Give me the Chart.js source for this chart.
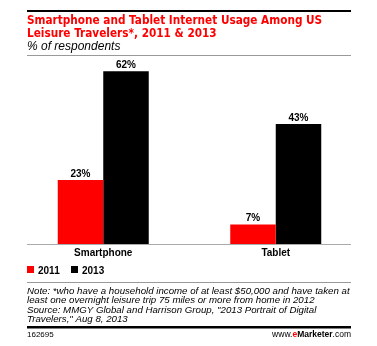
<!DOCTYPE html>
<html>
<head>
<meta charset="utf-8">
<script src="https://cdn.jsdelivr.net/npm/chart.js@4.4.1/dist/chart.umd.min.js"></script>
<style>
  html, body { margin: 0; padding: 0; background: #fff; }
  #wrap { position: relative; width: 377px; height: 346px; }
</style>
</head>
<body>
<div id="wrap"><canvas id="usageChart" width="377" height="346"></canvas></div>
<script>
// chart data
const categories = ['Smartphone', 'Tablet'];
const seriesNames = ['2011', '2013'];
const values2011 = [23, 7];
const values2013 = [62, 43];
const seriesColors = ['#ff0000', '#000000'];

const titleLines = ['Smartphone and Tablet Internet Usage Among US', 'Leisure Travelers*, 2011 & 2013'];
const subtitle = '% of respondents';
const noteLines = [
    'Note: *who have a household income of at least $50,000 and have taken at',
    'least one overnight leisure trip 75 miles or more from home in 2012',
    'Source: MMGY Global and Harrison Group, "2013 Portrait of Digital',
    'Travelers," Aug 8, 2013'
];
const chartId = '162695';

const LEFT = 27, RIGHT = 351;

// header, value labels, legend and footer
const decorations = {
    id: 'decorations',
    afterDraw(chart) {
        const ctx = chart.ctx;
        const y = chart.scales.y;
        ctx.save();

        // top rule
        ctx.fillStyle = '#000';
        ctx.fillRect(LEFT, 10, RIGHT - LEFT, 2);

        // title
        ctx.fillStyle = '#ff0000';
        ctx.font = 'bold 11.7px "DejaVu Sans Condensed", "DejaVu Sans", sans-serif';
        ctx.textBaseline = 'alphabetic';
        ctx.textAlign = 'left';
        ctx.fillText(titleLines[0], LEFT, 24);
        ctx.fillText(titleLines[1], LEFT, 37);

        ctx.fillStyle = '#000';
        ctx.font = 'italic 12px "Liberation Sans", Arial, sans-serif';
        ctx.fillText(subtitle, LEFT, 50);

        ctx.fillStyle = '#999';
        ctx.fillRect(LEFT, 55, RIGHT - LEFT, 1);

        // baseline
        ctx.fillStyle = '#aaa';
        ctx.fillRect(LEFT, Math.round(y.getPixelForValue(0)), RIGHT - LEFT, 1);

        // value labels
        ctx.fillStyle = '#000';
        ctx.font = 'bold 10px "Liberation Sans", Arial, sans-serif';
        ctx.textAlign = 'center';
        chart.data.datasets.forEach((ds, i) => {
            chart.getDatasetMeta(i).data.forEach((bar, j) => {
                ctx.fillText(ds.data[j] + '%', bar.x, bar.y - 3);
            });
        });

        // legend
        ctx.textAlign = 'left';
        let lx = LEFT;
        chart.data.datasets.forEach((ds) => {
            ctx.fillStyle = ds.backgroundColor;
            ctx.fillRect(lx, 266, 7, 7);
            ctx.fillStyle = '#000';
            ctx.fillText(ds.label, lx + 11, 273.5);
            lx += 44;
        });

        ctx.fillStyle = '#999';
        ctx.fillRect(LEFT, 282, RIGHT - LEFT, 1);

        // note
        ctx.fillStyle = '#000';
        ctx.font = 'italic 9.7px "Liberation Sans", Arial, sans-serif';
        noteLines.forEach((line, i) => {
            ctx.fillText(line, LEFT, 294 + i * 9.4);
        });

        ctx.fillRect(LEFT, 326, RIGHT - LEFT, 2.5);

        // footer
        ctx.font = '8px "Liberation Sans", Arial, sans-serif';
        ctx.fillText(chartId, LEFT, 337);

        const parts = [
            ['www.', 'normal', '#000'],
            ['e', 'bold', '#ff0000'],
            ['Marketer', 'bold', '#000'],
            ['.com', 'normal', '#000']
        ];
        let total = 0;
        parts.forEach(p => {
            ctx.font = p[1] + ' 8.5px "Liberation Sans", Arial, sans-serif';
            total += ctx.measureText(p[0]).width;
        });
        let fx = RIGHT - total;
        parts.forEach(p => {
            ctx.font = p[1] + ' 8.5px "Liberation Sans", Arial, sans-serif';
            ctx.fillStyle = p[2];
            ctx.fillText(p[0], fx, 337);
            fx += ctx.measureText(p[0]).width;
        });

        ctx.restore();
    }
};

const ctx = document.getElementById('usageChart').getContext('2d');
const usageChart = new Chart(ctx, {
    type: 'bar',
    data: {
        labels: categories,
        datasets: [
            { label: seriesNames[0], data: values2011, backgroundColor: seriesColors[0] },
            { label: seriesNames[1], data: values2013, backgroundColor: seriesColors[1] }
        ]
    },
    options: {
        responsive: false,
        animation: false,
        layout: { padding: { top: 60, left: 17, right: 15, bottom: 82 } },
        datasets: {
            bar: { categoryPercentage: 0.5275, barPercentage: 1 }
        },
        scales: {
            x: {
                grid: { display: false, drawTicks: false },
                border: { display: false },
                ticks: {
                    color: '#000',
                    padding: 3,
                    font: { family: '"Liberation Sans", Arial, sans-serif', size: 10, weight: 'bold' }
                },
                afterFit: (scale) => { scale.height = 20; }
            },
            y: {
                display: false,
                min: 0,
                max: 66
            }
        },
        plugins: {
            legend: { display: false },
            tooltip: { enabled: false }
        }
    },
    plugins: [decorations]
});
</script>
</body>
</html>
